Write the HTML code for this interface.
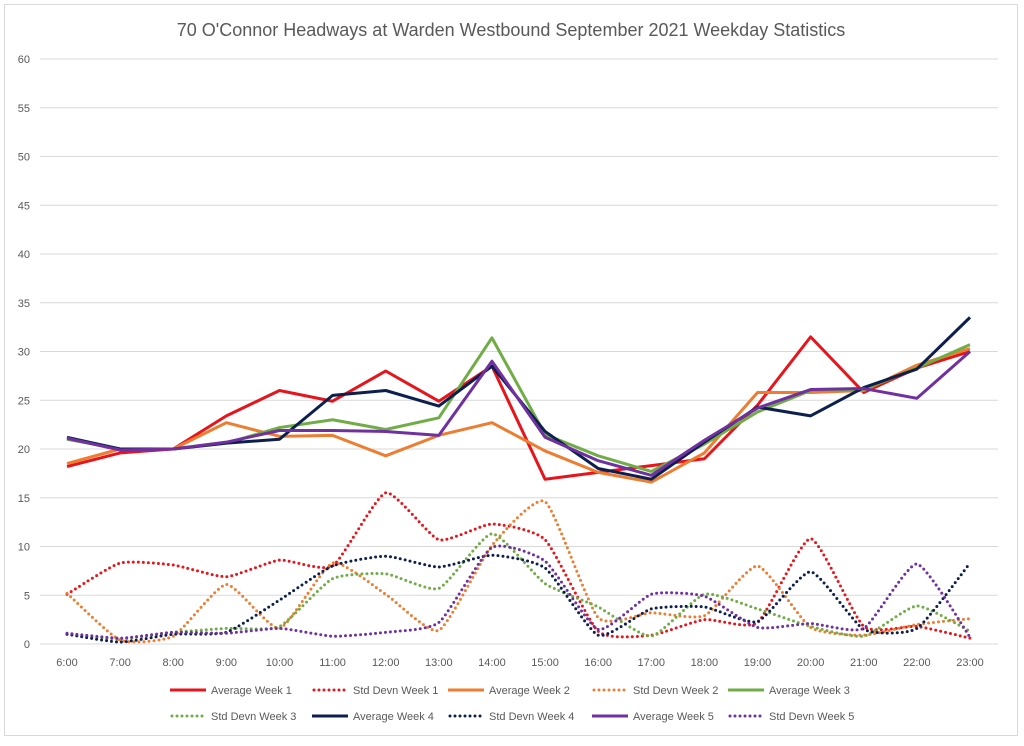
<!DOCTYPE html>
<html><head><meta charset="utf-8"><style>
body{margin:0;background:#fff;font-family:"Liberation Sans",sans-serif}
svg text{font-family:"Liberation Sans",sans-serif;fill:#595959}
</style></head><body>
<svg id="c" width="1024" height="741" xmlns="http://www.w3.org/2000/svg">
<rect x="4.5" y="4.5" width="1013" height="731" fill="#fff" stroke="#d9d9d9"/>
<text x="511" y="36" font-size="18" text-anchor="middle">70 O'Connor Headways at Warden Westbound September 2021 Weekday Statistics</text>
<g id="grid"></g><g id="series"></g><g id="legend"></g>
</svg>
<script>
const categories=["6:00","7:00","8:00","9:00","10:00","11:00","12:00","13:00","14:00","15:00","16:00","17:00","18:00","19:00","20:00","21:00","22:00","23:00"];
const yTicks=[0,5,10,15,20,25,30,35,40,45,50,55,60];
const avgW1=[18.2,19.6,20,23.4,26,24.9,28,24.9,28.5,16.9,17.6,18.3,19,24.5,31.5,25.8,28.3,30];
const sdW1=[5.1,8.3,8.1,6.9,8.6,8,15.5,10.7,12.3,10.7,1.3,0.9,2.5,2.2,10.8,1.8,1.8,0.6];
const avgW2=[18.5,20,20,22.7,21.3,21.4,19.3,21.4,22.7,19.8,17.6,16.6,19.6,25.8,25.8,26,28.6,30.3];
const sdW2=[5.2,0.4,0.8,6.1,1.6,8.3,5.1,1.4,10.1,14.6,2.7,3.2,2.9,8,1.7,0.9,2,2.6];
const avgW3=[21,20,20,20.6,22.2,23,22,23.2,31.4,21.5,19.3,17.7,20.5,23.8,26,26.1,28.3,30.7];
const sdW3=[1,0.5,1.2,1.6,1.8,6.7,7.2,5.7,11.3,6.2,3.8,0.8,5.1,3.6,1.8,0.8,3.9,1.3];
const avgW4=[21.2,20,20,20.6,21,25.5,26,24.4,28.5,21.8,18,16.9,20.7,24.3,23.4,26.3,28.2,33.5];
const sdW4=[1,0.2,1,1.2,4.5,8,9,7.9,9.1,7.8,0.9,3.6,3.8,2.3,7.4,1.5,1.6,8.3];
const avgW5=[21.1,19.9,20,20.7,21.9,21.9,21.8,21.4,29,21.2,18.8,17.3,20.9,24.2,26.1,26.2,25.2,30];
const sdW5=[1.1,0.6,1.2,1.1,1.6,0.8,1.2,2.2,9.9,8.5,1.5,5.1,4.9,1.7,2.1,1.6,8.2,0.7];

const NS="http://www.w3.org/2000/svg";
const x0=67,x1=970,yb=644,yt=59;
const xs=i=>x0+i*(x1-x0)/(categories.length-1);
const ys=v=>yb-v*(yb-yt)/60;
function mk(t,a,p){const e=document.createElementNS(NS,t);for(const k in a)e.setAttribute(k,a[k]);p.appendChild(e);return e;}
const grid=document.getElementById('grid');
yTicks.forEach(v=>{
  const l=mk('line',{x1:40,x2:998,y1:ys(v),y2:ys(v),stroke:'#d9d9d9','stroke-width':1},grid);
  
  
  const t=mk('text',{x:30,y:ys(v)+4,'font-size':11,'text-anchor':'end'},grid);t.textContent=v;
  
  
});
categories.forEach((c,i)=>{
  const t=mk('text',{x:xs(i),y:666,'font-size':11,'text-anchor':'middle'},grid);t.textContent=c;
  
  
});
function smooth(pts){let d='M'+pts[0][0]+','+pts[0][1];const k=11;
  for(let i=0;i<pts.length-1;i++){const p0=pts[i-1]||pts[i],p1=pts[i],p2=pts[i+1],p3=pts[i+2]||p2;
    const c1=[p1[0]+(p2[0]-p0[0])/k,p1[1]+(p2[1]-p0[1])/k],c2=[p2[0]-(p3[0]-p1[0])/k,p2[1]-(p3[1]-p1[1])/k];
    d+=' C'+c1+' '+c2+' '+p2;}return d;}
const series=[
 ['Average Week 1',avgW1,'#e8141b',false],['Std Devn Week 1',sdW1,'#e8141b',true],
 ['Average Week 2',avgW2,'#ed7d31',false],['Std Devn Week 2',sdW2,'#ed7d31',true],
 ['Average Week 3',avgW3,'#70ad47',false],['Std Devn Week 3',sdW3,'#70ad47',true],
 ['Average Week 4',avgW4,'#0d1f4f',false],['Std Devn Week 4',sdW4,'#0d1f4f',true],
 ['Average Week 5',avgW5,'#7030a0',false],['Std Devn Week 5',sdW5,'#7030a0',true]];
const sg=document.getElementById('series');
series.forEach(([n,d,c,dot])=>{
  const pts=d.map((v,i)=>[xs(i),ys(v)]);
  const a=dot?{d:smooth(pts),fill:'none',stroke:c,'stroke-width':3,'stroke-dasharray':'0 5','stroke-linecap':'round'}
             :{d:'M'+pts.map(p=>p.join(',')).join(' L'),fill:'none',stroke:c,'stroke-width':3,'stroke-linejoin':'round'};
  const p=mk('path',a,sg);
  
  
});
const lg=document.getElementById('legend');
const lx=[170,312,448,592,728];
series.forEach(([n,d,c,dot],k)=>{
  const r=Math.floor(k/5),x=lx[k%5],y=r?716:690;
  const g=mk('g',{},lg);
  
  
  mk('line',dot?{x1:x+2,x2:x+36,y1:y,y2:y,stroke:c,'stroke-width':3,'stroke-dasharray':'0 5','stroke-linecap':'round'}:{x1:x,x2:x+36,y1:y,y2:y,stroke:c,'stroke-width':3},g);
  const t=mk('text',{x:x+41,y:y+4,'font-size':11},g);t.textContent=n;
});
</script>
</body></html>
